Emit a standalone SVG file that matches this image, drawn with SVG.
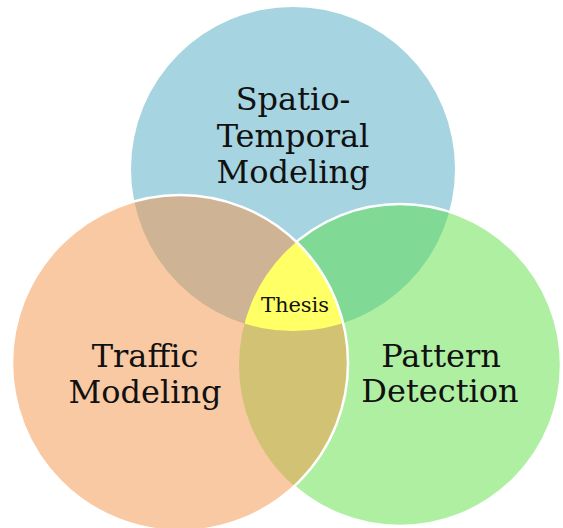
<svg xmlns="http://www.w3.org/2000/svg" width="563" height="528" viewBox="0 0 563 528">
<style>
.lbl{font-family:"DejaVu Serif","Liberation Serif",serif;font-size:32px;fill:#111;text-anchor:middle}
.small{font-size:21px}
.edge{fill:none;stroke:#fff;stroke-width:2.5}
</style>
<defs>
<clipPath id="cpBlue"><circle cx="293" cy="169" r="162"/></clipPath>
<clipPath id="cpGreen"><circle cx="400" cy="365" r="161"/></clipPath>
</defs>
<rect width="563" height="528" fill="#fff"/>
<g id="spatio-temporal">
<circle cx="293" cy="169" r="162" fill="#A6D4E0"/>
</g>
<g id="pattern-detection">
<circle cx="400" cy="365" r="161" fill="#AFEFA2"/>
<circle cx="400" cy="365" r="161" fill="#80DA95" clip-path="url(#cpBlue)"/>
<circle cx="400" cy="365" r="161" class="edge"/>
</g>
<g id="traffic-modeling">
<circle cx="180" cy="363" r="168" fill="#F9C9A3"/>
<circle cx="180" cy="363" r="168" fill="#CEB394" clip-path="url(#cpBlue)"/>
<circle cx="180" cy="363" r="168" fill="#D2C274" clip-path="url(#cpGreen)"/>
</g>
<g id="thesis">
<g clip-path="url(#cpGreen)">
<circle cx="180" cy="363" r="168" fill="#FFFF66" clip-path="url(#cpBlue)"/>
</g>
</g>
<g id="connectors">
<circle cx="180" cy="363" r="168" class="edge"/>
</g>
<g id="labels">
<text class="lbl" x="293" y="110">Spatio-</text>
<text class="lbl" x="293" y="147">Temporal</text>
<text class="lbl" x="293" y="183">Modeling</text>
<text class="lbl" x="145" y="367">Traffic</text>
<text class="lbl" x="145" y="403">Modeling</text>
<text class="lbl" x="441" y="367">Pattern</text>
<text class="lbl" x="440" y="402">Detection</text>
<text class="lbl small" x="295" y="312">Thesis</text>
</g>
</svg>
